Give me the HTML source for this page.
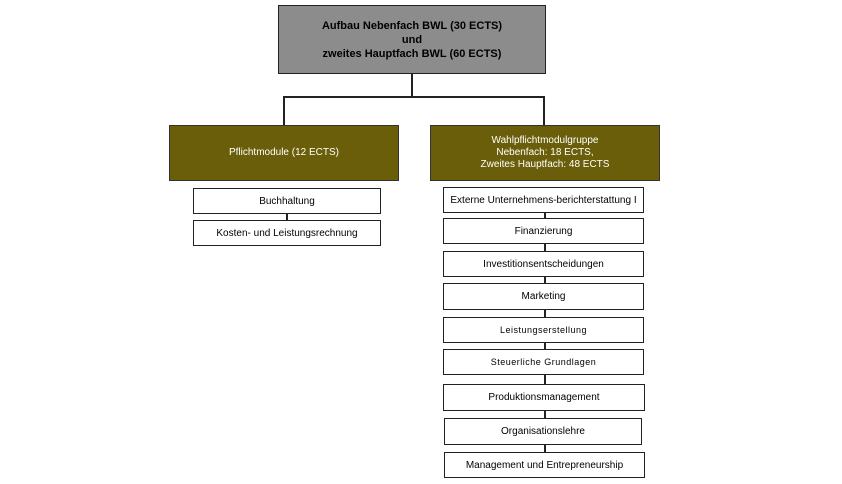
<!DOCTYPE html>
<html><head><meta charset="utf-8"><style>
body{margin:0;width:842px;height:484px;background:#fff;position:relative;overflow:hidden;font-family:"Liberation Sans",sans-serif;}
.b{position:absolute;box-sizing:border-box;border:1.5px solid #222;display:flex;align-items:center;justify-content:center;text-align:center;font-size:10px;background:#fff;color:#000;}
.o{background:#6b5e0a;color:#fff;border-color:#333;font-size:10px;line-height:12px;}
.l{position:absolute;background:#222;}
</style></head><body>
<div class="b" style="left:278px;top:5px;width:268px;height:69px;background:#8c8c8c;font-weight:bold;font-size:11px;line-height:14px;">Aufbau Nebenfach BWL (30 ECTS)<br>und<br>zweites Hauptfach BWL (60 ECTS)</div>
<div class="l" style="left:411px;top:74px;width:1.5px;height:23px"></div>
<div class="l" style="left:283px;top:96px;width:261px;height:1.5px"></div>
<div class="l" style="left:283px;top:96px;width:1.5px;height:29px"></div>
<div class="l" style="left:543px;top:96px;width:1.5px;height:29px"></div>
<div class="b o" style="left:169px;top:125px;width:230px;height:56px;">Pflichtmodule (12 ECTS)</div>
<div class="b o" style="left:430px;top:125px;width:230px;height:56px;">Wahlpflichtmodulgruppe<br>Nebenfach: 18 ECTS,<br>Zweites Hauptfach: 48 ECTS</div>
<div class="l" style="left:286px;top:213px;width:1.5px;height:8px"></div>
<div class="b" style="left:193px;top:188px;width:188px;height:26px;">Buchhaltung</div>
<div class="b" style="left:193px;top:220px;width:188px;height:26px;">Kosten- und Leistungsrechnung</div>
<div class="l" style="left:544px;top:200px;width:1.5px;height:265px"></div>
<div class="b" style="left:443px;top:187px;width:201px;height:26px;">Externe Unternehmens-berichterstattung I</div>
<div class="b" style="left:443px;top:218px;width:201px;height:26px;">Finanzierung</div>
<div class="b" style="left:443px;top:251px;width:201px;height:26px;">Investitionsentscheidungen</div>
<div class="b" style="left:443px;top:283px;width:201px;height:27px;">Marketing</div>
<div class="b" style="left:443px;top:317px;width:201px;height:26px;font-size:9px;letter-spacing:0.5px;">Leistungserstellung</div>
<div class="b" style="left:443px;top:349px;width:201px;height:26px;font-size:9px;letter-spacing:0.5px;">Steuerliche Grundlagen</div>
<div class="b" style="left:443px;top:384px;width:202px;height:27px;">Produktionsmanagement</div>
<div class="b" style="left:444px;top:418px;width:198px;height:27px;">Organisationslehre</div>
<div class="b" style="left:444px;top:452px;width:201px;height:26px;">Management und Entrepreneurship</div>
</body></html>
